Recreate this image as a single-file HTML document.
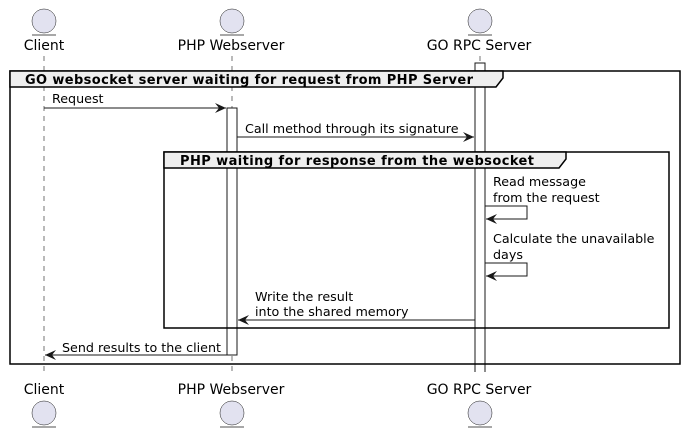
<!DOCTYPE html>
<html><head><meta charset="utf-8"><style>body{margin:0;background:#fff}svg{display:block}text{font-family:"DejaVu Sans","Liberation Sans",sans-serif;fill:#000}</style></head><body>
<svg width="684" height="433" viewBox="0 0 684 433" xmlns="http://www.w3.org/2000/svg">
<defs><marker id="a" markerWidth="12" markerHeight="10" refX="11" refY="5" orient="auto" markerUnits="userSpaceOnUse"><path d="M0,0 L11,5 L0,10 L4,5 Z" fill="#181818"/></marker></defs>
<g stroke="#181818" stroke-width="0.6" stroke-dasharray="5,5">
<line x1="44" y1="56" x2="44" y2="376"/><line x1="232" y1="56" x2="232" y2="376"/><line x1="480" y1="56" x2="480" y2="376"/>
</g>
<g fill="#E2E2F0" stroke="#181818" stroke-width="0.5">
<circle cx="44" cy="21" r="12"/><circle cx="232" cy="21" r="12"/><circle cx="480" cy="21" r="12"/>
<circle cx="44" cy="413" r="12"/><circle cx="232" cy="413" r="12"/><circle cx="480" cy="413" r="12"/>
</g>
<g stroke="#181818" stroke-width="0.8">
<line x1="32" y1="35" x2="56" y2="35"/><line x1="220" y1="35" x2="244" y2="35"/><line x1="468" y1="35" x2="492" y2="35"/>
<line x1="32" y1="427" x2="56" y2="427"/><line x1="220" y1="427" x2="244" y2="427"/><line x1="468" y1="427" x2="492" y2="427"/>
</g>
<g font-size="14" text-anchor="middle">
<text x="44" y="50">Client</text><text x="231" y="50">PHP Webserver</text><text x="479" y="50">GO RPC Server</text>
<text x="44" y="394">Client</text><text x="231" y="394">PHP Webserver</text><text x="479" y="394">GO RPC Server</text>
</g>
<path d="M475,372 L475,63 L485,63 L485,372" fill="#fff" stroke="#181818"/>
<rect x="227" y="108" width="10" height="247" fill="#fff" stroke="#181818"/>
<rect x="10" y="71" width="670" height="293" fill="none" stroke="#000" stroke-width="1.5"/>
<path d="M10,71 L503,71 L503,78 L496,87 L10,87 Z" fill="#EEEEEE" stroke="#000" stroke-width="1.5"/>
<text x="25" y="84" font-size="13" font-weight="bold" textLength="448" lengthAdjust="spacing">GO websocket server waiting for request from PHP Server</text>
<rect x="164" y="152" width="505" height="176" fill="none" stroke="#000" stroke-width="1.5"/>
<path d="M164,152 L566,152 L566,159 L559,168 L164,168 Z" fill="#EEEEEE" stroke="#000" stroke-width="1.5"/>
<text x="180" y="165" font-size="13" font-weight="bold" textLength="354" lengthAdjust="spacing">PHP waiting for response from the websocket</text>
<g stroke="#181818" stroke-width="1" fill="none" marker-end="url(#a)">
<line x1="44" y1="108" x2="226" y2="108"/>
<line x1="237" y1="137" x2="474" y2="137"/>
<polyline points="485,206 527,206 527,219 486,219"/>
<polyline points="485,263 527,263 527,276 486,276"/>
<line x1="475" y1="320" x2="238" y2="320"/>
<line x1="227" y1="355" x2="45" y2="355"/>
</g>
<g font-size="12.7">
<text x="52" y="103">Request</text>
<text x="245" y="133">Call method through its signature</text>
<text x="493" y="186">Read message</text><text x="493" y="202">from the request</text>
<text x="493" y="243">Calculate the unavailable</text><text x="493" y="259">days</text>
<text x="255" y="301">Write the result</text><text x="255" y="316">into the shared memory</text>
<text x="62" y="352">Send results to the client</text>
</g>
</svg>
</body></html>
